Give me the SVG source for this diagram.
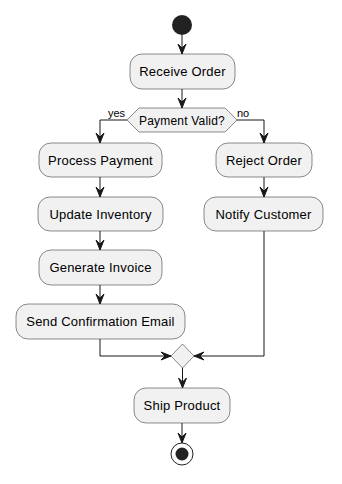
<svg xmlns="http://www.w3.org/2000/svg" width="342" height="484" viewBox="0 0 342 484">
<defs>
<marker id="arr" viewBox="-11 -5 12 10" refX="0" refY="0" markerWidth="12" markerHeight="10" markerUnits="userSpaceOnUse" orient="auto">
<path d="M0,0 L-10,-4 L-6,0 L-10,4 Z" fill="#181818" stroke="#181818" stroke-width="1"/>
</marker>
</defs>
<style>
.box{fill:#F1F1F1;stroke:#181818;stroke-width:0.5}
.t{font-family:"Liberation Sans",Arial,sans-serif;font-size:13px;letter-spacing:0.2px;fill:#000;text-anchor:middle}
.s{font-family:"Liberation Sans",Arial,sans-serif;font-size:11px;fill:#000}
.c{fill:none;stroke:#181818;stroke-width:1;marker-end:url(#arr)}
</style>
<rect width="342" height="484" fill="#fff"/>
<g id="start"><circle cx="182" cy="25" r="10" fill="#222222"/></g>
<g id="receive"><rect class="box" x="130" y="54" width="105" height="35" rx="12"/><text class="t" x="182.5" y="76">Receive Order</text></g>
<g id="decision"><polygon class="box" points="127,120 139,108 225,108 237,120 225,132 139,132"/><text class="t" x="182" y="124.5" style="font-size:12px">Payment Valid?</text></g>
<g id="process"><rect class="box" x="39" y="143" width="123" height="34" rx="12"/><text class="t" x="100.5" y="164.5">Process Payment</text></g>
<g id="reject"><rect class="box" x="216" y="143" width="96" height="34" rx="12"/><text class="t" x="264" y="164.5">Reject Order</text></g>
<g id="update"><rect class="box" x="38" y="197" width="125" height="34" rx="12"/><text class="t" x="100.5" y="218.5">Update Inventory</text></g>
<g id="notify"><rect class="box" x="204" y="197" width="119" height="34" rx="12"/><text class="t" x="263.5" y="218.5">Notify Customer</text></g>
<g id="invoice"><rect class="box" x="39" y="250" width="123" height="35" rx="12"/><text class="t" x="100.5" y="272">Generate Invoice</text></g>
<g id="email"><rect class="box" x="16" y="304" width="169" height="35" rx="12"/><text class="t" x="100.5" y="326">Send Confirmation Email</text></g>
<g id="merge"><polygon class="box" points="182.5,344 194,356 182.5,368 171,356"/></g>
<g id="ship"><rect class="box" x="134" y="388" width="96" height="35" rx="12"/><text class="t" x="182" y="410">Ship Product</text></g>
<g id="end"><circle cx="182" cy="454" r="11" fill="none" stroke="#222222" stroke-width="1"/><circle cx="182" cy="454" r="6.5" fill="#222222"/></g>
<g id="connectors">
<path class="c" d="M182,35 L182,54"/>
<path class="c" d="M182,89 L182,108"/>
<path class="c" d="M127,120 L100,120 L100,143"/>
<path class="c" d="M237,120 L264,120 L264,143"/>
<path class="c" d="M100,177 L100,197"/>
<path class="c" d="M264,177 L264,197"/>
<path class="c" d="M100,231 L100,250"/>
<path class="c" d="M100,285 L100,304"/>
<path class="c" d="M100,339 L100,356 L171,356"/>
<path class="c" d="M264,231 L264,356 L194,356"/>
<path class="c" d="M182.5,368 L182.5,388"/>
<path class="c" d="M182,423 L182,443"/>
<text class="s" x="108" y="117">yes</text>
<text class="s" x="237" y="117">no</text>
</g>
</svg>
